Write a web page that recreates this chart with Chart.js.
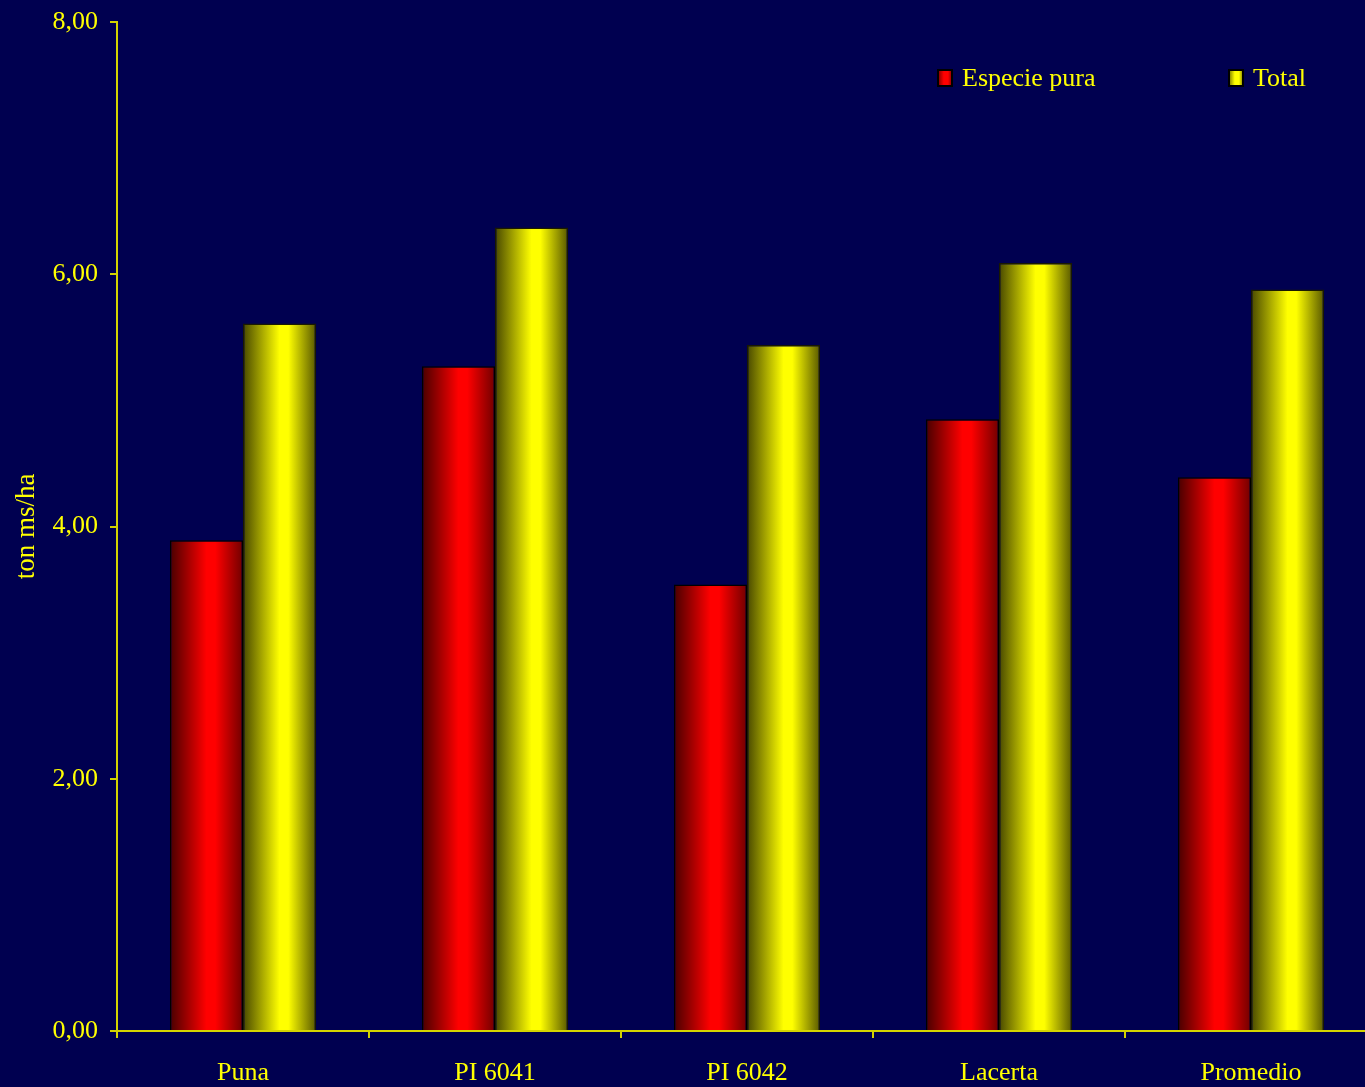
<!DOCTYPE html>
<html>
<head>
<meta charset="utf-8">
<script src="https://cdn.jsdelivr.net/npm/chart.js@4/dist/chart.umd.min.js"></script>
<style>
    html, body { margin: 0; padding: 0; background: #000050; overflow: hidden; }
    #wrap { position: relative; width: 1365px; height: 1087px; overflow: hidden; }
    #chart { position: absolute; left: 0; top: 0; }
    .legend { position: absolute; top: 63px; font-family: "Liberation Serif", "Times New Roman", serif; font-size: 26px; color: #ffff00; display: flex; align-items: center; }
    .legend .box { width: 12px; height: 14px; border: 2px solid #000; margin-right: 9px; }
</style>
</head>
<body>
<div id="wrap">
    <canvas id="chart" width="1380" height="1087"></canvas>
    <div class="legend" style="left: 937px;"><span class="box" style="background: linear-gradient(90deg, #900000, #ff0000 40%, #ff0000 75%, #a00000);"></span>Especie pura</div>
    <div class="legend" style="left: 1228px;"><span class="box" style="background: linear-gradient(90deg, #909000, #ffff00 40%, #ffff00 75%, #a0a000);"></span>Total</div>
</div>
<script>
// Data
const categories = ['Puna', 'PI 6041', 'PI 6042', 'Lacerta', 'Promedio'];
const especiePura = [3.89, 5.27, 3.54, 4.85, 4.39];
const total = [5.61, 6.37, 5.44, 6.09, 5.88];
const yTicks = [0, 2, 4, 6, 8];

const CAT_PCT = 0.58;
const AXIS_COLOR = '#d4d400';
const TEXT_COLOR = '#ffff00';
const FONT = { family: '"Liberation Serif", "Times New Roman", serif', size: 26 };

// horizontal gradient per bar, computed from the x scale
function barGradient(dark, bright, darkRight) {
    return (ctx) => {
        const chart = ctx.chart;
        const xs = chart.scales.x;
        if (!xs || !chart.chartArea || ctx.dataIndex === undefined) return bright;
        const center = xs.getPixelForValue(ctx.dataIndex);
        const half = (xs.width / categories.length) * CAT_PCT / 2;
        const x0 = ctx.datasetIndex === 0 ? center - half : center;
        const x1 = x0 + half;
        const g = chart.ctx.createLinearGradient(x0, 0, x1, 0);
        g.addColorStop(0, dark);
        g.addColorStop(0.5, bright);
        g.addColorStop(0.62, bright);
        g.addColorStop(1, darkRight);
        return g;
    };
}

new Chart(document.getElementById('chart'), {
    type: 'bar',
    data: {
        labels: categories,
        datasets: [{
            label: 'Especie pura',
            data: especiePura,
            backgroundColor: barGradient('#480000', '#ff0000', '#700000'),
            borderColor: '#000000',
            borderWidth: 1.5,
            borderSkipped: 'bottom'
        }, {
            label: 'Total',
            data: total,
            backgroundColor: barGradient('#484800', '#ffff00', '#585800'),
            borderColor: '#1a1a00',
            borderWidth: 1.5,
            borderSkipped: 'bottom'
        }]
    },
    options: {
        responsive: false,
        animation: false,
        devicePixelRatio: 1,
        layout: { padding: { top: 22, right: 3, left: 0, bottom: 0 } },
        datasets: { bar: { barPercentage: 1, categoryPercentage: CAT_PCT } },
        plugins: { legend: { display: false }, tooltip: { enabled: false } },
        scales: {
            x: {
                grid: { display: true, drawOnChartArea: false, color: AXIS_COLOR, tickLength: 7, lineWidth: 2 },
                border: { color: AXIS_COLOR, width: 2 },
                ticks: { color: TEXT_COLOR, font: FONT, padding: 20 },
                afterFit: (s) => { s.height = 56; s.paddingLeft = 0; s.paddingRight = 0; }
            },
            y: {
                min: 0,
                max: 8,
                afterBuildTicks: (s) => { s.ticks = yTicks.map(v => ({ value: v })); },
                grid: { display: true, drawOnChartArea: false, color: AXIS_COLOR, tickLength: 7, lineWidth: 2 },
                border: { color: AXIS_COLOR, width: 2 },
                ticks: {
                    color: TEXT_COLOR, font: FONT, padding: 12,
                    callback: (v) => v.toFixed(2).replace('.', ',')
                },
                title: { display: true, text: 'ton ms/ha', color: TEXT_COLOR, font: { family: FONT.family, size: 27 }, padding: { top: 11, bottom: 0 } },
                afterFit: (s) => { s.width = 117; s.paddingTop = 0; s.paddingBottom = 0; }
            }
        }
    }
});
</script>
</body>
</html>
